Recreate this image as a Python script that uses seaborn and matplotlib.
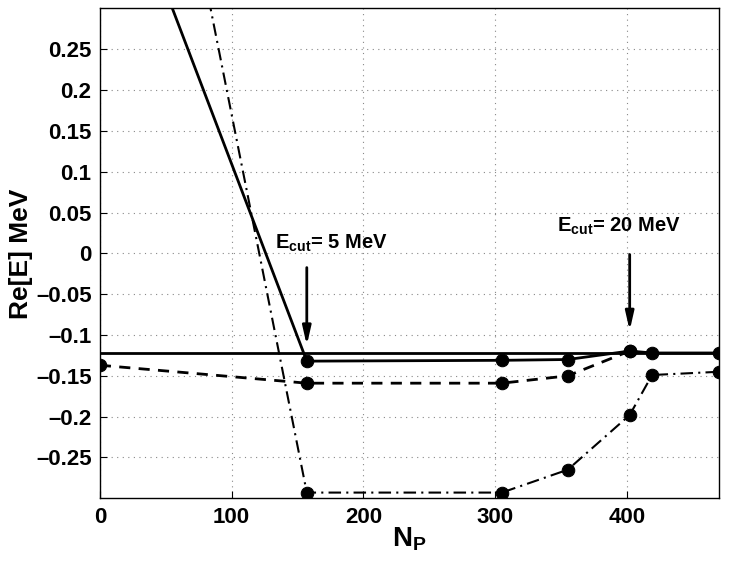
import numpy as np
import pandas as pd
import seaborn as sns
import matplotlib.pyplot as plt

# N_P values and Re[E] (MeV)
np_solid = [0, 157, 305, 355, 402, 419, 470]
re_solid = [0.533, -0.132, -0.131, -0.130, -0.1196, -0.122, -0.122]

np_dashed = [0, 157, 305, 355, 402]
re_dashed = [-0.137, -0.159, -0.159, -0.150, -0.1196]

np_dashdot = [0, 157, 305, 355, 402, 419, 470]
re_dashdot = [0.982, -0.293, -0.293, -0.265, -0.198, -0.149, -0.145]

re_exact = -0.1215

sns.set_style('ticks')
plt.rcParams['font.family'] = ['Liberation Sans', 'DejaVu Sans']
plt.rcParams['font.weight'] = 'bold'
plt.rcParams['mathtext.fontset'] = 'custom'
plt.rcParams['mathtext.bf'] = 'Liberation Sans:bold'
plt.rcParams['mathtext.rm'] = 'Liberation Sans:bold'
plt.rcParams['text.color'] = 'black'
plt.rcParams['axes.labelcolor'] = 'black'
plt.rcParams['xtick.color'] = 'black'
plt.rcParams['ytick.color'] = 'black'

fig = plt.figure(figsize=(7.29, 5.64), dpi=100)
ax = fig.add_axes([0.137, 0.1165, 0.8497, 0.8685])

ax.axhline(re_exact, color='black', lw=2, zorder=2)

sns.lineplot(x=np_solid, y=re_solid, ax=ax, color='black', lw=2,
             marker='o', markersize=9, markeredgecolor='black', linestyle='-')
sns.lineplot(x=np_dashed, y=re_dashed, ax=ax, color='black', lw=2,
             marker='o', markersize=9, markeredgecolor='black', linestyle=(0, (4, 3)))
sns.lineplot(x=np_dashdot, y=re_dashdot, ax=ax, color='black', lw=1.5,
             marker='o', markersize=9, markeredgecolor='black', linestyle=(0, (6, 2.5, 1, 2.5)))

ax.set_xlim(0, 470)
ax.set_ylim(-0.3, 0.3)
ax.set_xticks([0, 100, 200, 300, 400])
yt = np.round(np.arange(-0.25, 0.26, 0.05), 2)
ax.set_yticks(yt)
ax.set_yticklabels(['0' if v == 0 else f'{v:g}'.replace('-', '\u2013') for v in yt])
ax.grid(True, linestyle=(0, (1, 4)), color='#888888', lw=0.8)
ax.tick_params(direction='in', labelsize=16, length=5, pad=6, colors='black')
for lab in ax.get_xticklabels() + ax.get_yticklabels():
    lab.set_fontweight('bold')
for s in ax.spines.values():
    s.set_linewidth(1.0)
    s.set_color('black')

ax.set_xlabel('N$_\\mathrm{P}$', fontsize=20, fontweight='bold', labelpad=-2)
ax.set_ylabel('Re[E] MeV', fontsize=19, fontweight='bold', labelpad=2)

arrow = dict(arrowstyle='-|>,head_width=0.25,head_length=1.1', color='black', lw=2)
ax.annotate('', xy=(157, -0.116), xytext=(157, -0.014), arrowprops=arrow)
ax.annotate('', xy=(402, -0.098), xytext=(402, 0.002), arrowprops=arrow)
ax.text(133, 0.006, 'E$_\\mathrm{cut}$= 5 MeV', fontsize=14.5, fontweight='bold')
ax.text(347, 0.027, 'E$_\\mathrm{cut}$= 20 MeV', fontsize=14.5, fontweight='bold')

fig.savefig('out.png', dpi=100)
